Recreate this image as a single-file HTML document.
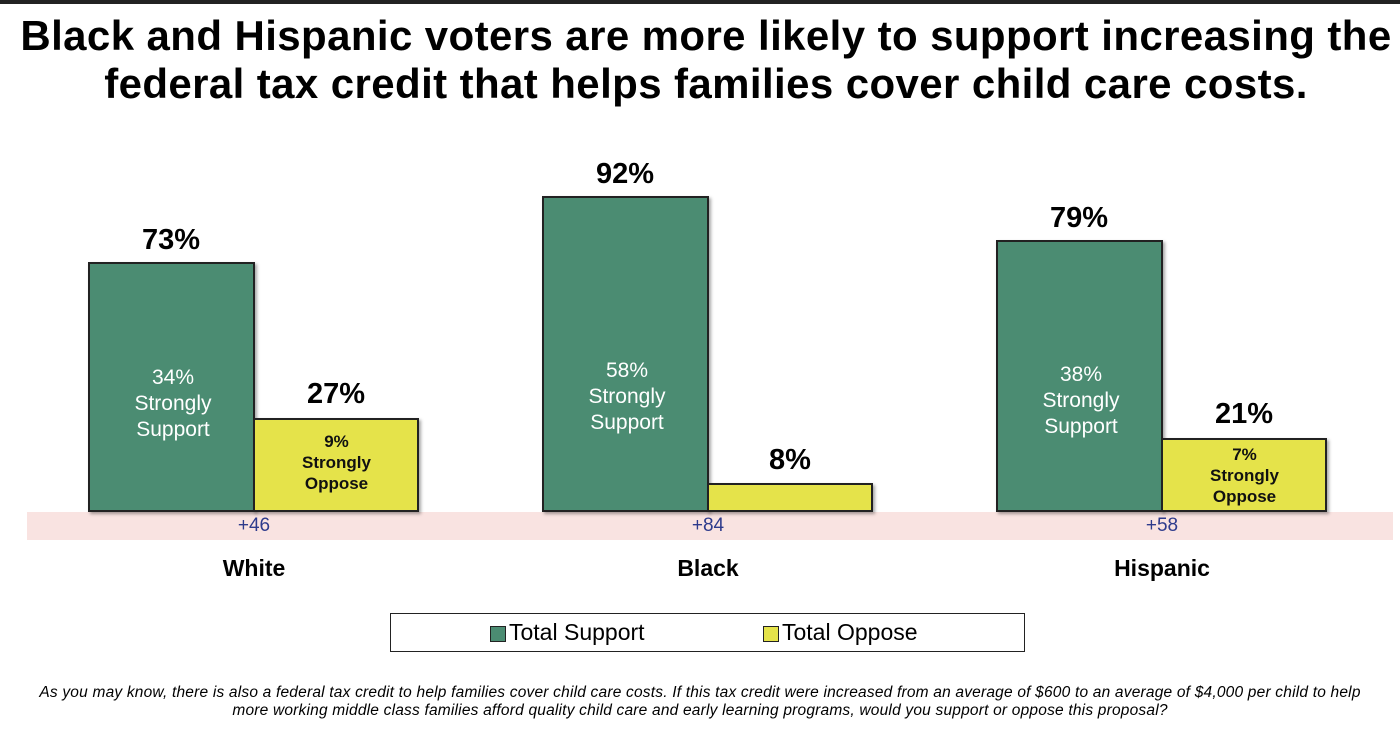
<!DOCTYPE html>
<html><head><style>
body{margin:0;width:1400px;height:730px;background:#fff;position:relative;overflow:hidden;font-family:"Liberation Sans",sans-serif;}
.a{position:absolute}
.g{position:absolute;background:#4b8c72;border:2px solid #222;box-sizing:border-box;box-shadow:2px 2px 3px rgba(0,0,0,.35)}
.y{position:absolute;background:#e5e34a;border:2px solid #222;box-sizing:border-box;box-shadow:2px 2px 3px rgba(0,0,0,.35)}
.v{position:absolute;font-size:29px;font-weight:bold;text-align:center;width:166px}
.in{position:absolute;text-align:center;width:166px;color:#fff;font-size:21px;line-height:26px}
.iy{position:absolute;text-align:center;width:165px;color:#111;font-size:17px;line-height:21px;font-weight:bold}
.d{position:absolute;color:#2e3b8c;font-size:19px;width:200px;text-align:center;top:515px}
.c{position:absolute;font-size:23px;font-weight:bold;width:200px;text-align:center;top:555px}
</style></head><body>
<div class="a" style="left:0;top:0;width:1400px;height:4px;background:#222"></div>
<div class="a" style="left:0;top:12px;width:1412px;text-align:center;font-size:42px;font-weight:bold;line-height:48px;letter-spacing:0.4px">Black and Hispanic voters are more likely to support increasing the<br>federal tax credit that helps families cover child care costs.</div>
<div class="a" style="left:27px;top:512px;width:1366px;height:28px;background:#f9e3e1"></div>

<div class="g" style="left:88px;top:262px;width:167px;height:250px"></div>
<div class="y" style="left:253px;top:418px;width:166px;height:94px"></div>
<div class="v" style="left:88px;top:224px">73%</div>
<div class="v" style="left:253px;top:378px">27%</div>
<div class="in" style="left:90px;top:365px">34%<br>Strongly<br>Support</div>
<div class="iy" style="left:254px;top:431px">9%<br>Strongly<br>Oppose</div>

<div class="g" style="left:542px;top:196px;width:167px;height:316px"></div>
<div class="y" style="left:707px;top:483px;width:166px;height:29px"></div>
<div class="v" style="left:542px;top:158px">92%</div>
<div class="v" style="left:707px;top:444px">8%</div>
<div class="in" style="left:544px;top:358px">58%<br>Strongly<br>Support</div>

<div class="g" style="left:996px;top:240px;width:167px;height:272px"></div>
<div class="y" style="left:1161px;top:438px;width:166px;height:74px"></div>
<div class="v" style="left:996px;top:202px">79%</div>
<div class="v" style="left:1161px;top:398px">21%</div>
<div class="in" style="left:998px;top:362px">38%<br>Strongly<br>Support</div>
<div class="iy" style="left:1162px;top:444px">7%<br>Strongly<br>Oppose</div>

<div class="d" style="left:154px">+46</div>
<div class="d" style="left:608px">+84</div>
<div class="d" style="left:1062px">+58</div>
<div class="c" style="left:154px">White</div>
<div class="c" style="left:608px">Black</div>
<div class="c" style="left:1062px">Hispanic</div>

<div class="a" style="left:390px;top:613px;width:635px;height:39px;border:1px solid #222;box-sizing:border-box"></div>
<div class="a" style="left:490px;top:626px;width:14px;height:14px;background:#4b8c72;border:1px solid #222"></div>
<div class="a" style="left:509px;top:619px;font-size:23px">Total Support</div>
<div class="a" style="left:763px;top:626px;width:14px;height:14px;background:#e5e34a;border:1px solid #222"></div>
<div class="a" style="left:782px;top:619px;font-size:23px">Total Oppose</div>

<div class="a" style="left:0;top:684px;width:1400px;text-align:center;font-size:15.5px;font-style:italic;line-height:18px;letter-spacing:0.2px">As you may know, there is also a federal tax credit to help families cover child care costs. If this tax credit were increased from an average of $600 to an average of $4,000 per child to help<br>more working middle class families afford quality child care and early learning programs, would you support or oppose this proposal?</div>
</body></html>
